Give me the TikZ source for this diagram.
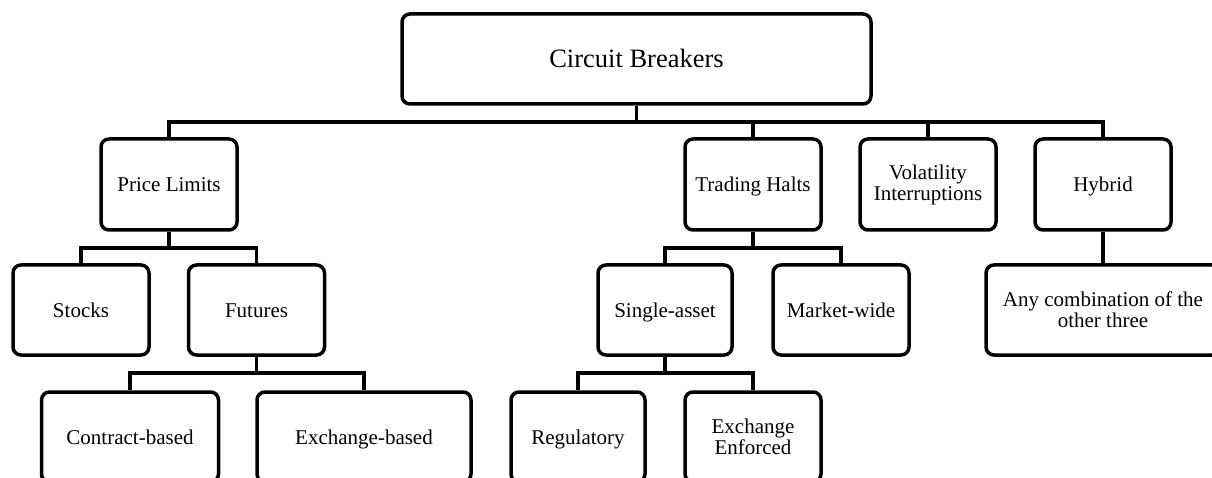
\documentclass[tikz,border=0pt]{standalone}
\usepackage{fontspec}
\setmainfont{Liberation Serif}
\usetikzlibrary{positioning}

\tikzset{
  box/.style={draw, line width=3.5pt, rounded corners=8pt, align=center,
    minimum width=136pt, minimum height=90pt, inner sep=2pt,
    font=\fontsize{21}{21}\selectfont},
  onebox/.style={box, text height=17pt, text depth=2pt},
  link/.style={line width=3.5pt}
}

\begin{document}
\begin{tikzpicture}[x=1pt,y=-1pt]
      \useasboundingbox (0,0) rectangle (1212,478);

      \coordinate (b1) at (0,122);
      \coordinate (b2) at (0,248);
      \coordinate (b3) at (0,373);

      \node[box, minimum width=469pt, text height=21pt, text depth=3pt,
            font=\fontsize{26.5}{30}\selectfont] (root) at (636.5,59) {Circuit Breakers};

      \node[onebox, minimum height=91pt] (pl) at (169,184.5) {Price Limits};
      \node[onebox, minimum height=91pt] (th) at (753,184.5) {Trading Halts};
      \node[box, minimum height=91pt] (vi) at (928,184.5) {Volatility\\Interruptions};
      \node[onebox, minimum height=91pt] (hy) at (1103,184.5) {Hybrid};

      \node[onebox] (st) at (81,310) {Stocks};
      \node[onebox] (fu) at (256.5,310) {Futures};
      \node[onebox, minimum width=134pt] (sa) at (665,310) {Single-asset};
      \node[onebox] (mw) at (841,310) {Market-wide};
      \node[box, minimum width=234pt] (ac) at (1103,310) {Any combination of the\\other three};

      \node[onebox, minimum width=177pt] (cb) at (130,437) {Contract-based};
      \node[onebox, minimum width=214pt] (eb) at (364,437) {Exchange-based};
      \node[onebox, minimum width=134pt] (re) at (578,437) {Regulatory};
      \node[box] (ee) at (753,437) {Exchange\\Enforced};

      \foreach \p/\c/\b in {root/pl/b1, root/th/b1, root/vi/b1, root/hy/b1,
                            pl/st/b2, pl/fu/b2, th/sa/b2, th/mw/b2,
                            fu/cb/b3, fu/eb/b3, sa/re/b3, sa/ee/b3}
        \draw[link] (\p.south) -- (\p.south |- \b) -| (\c.north);
      \draw[link] (hy.south) -- (ac.north);
    \end{tikzpicture}
\end{document}
